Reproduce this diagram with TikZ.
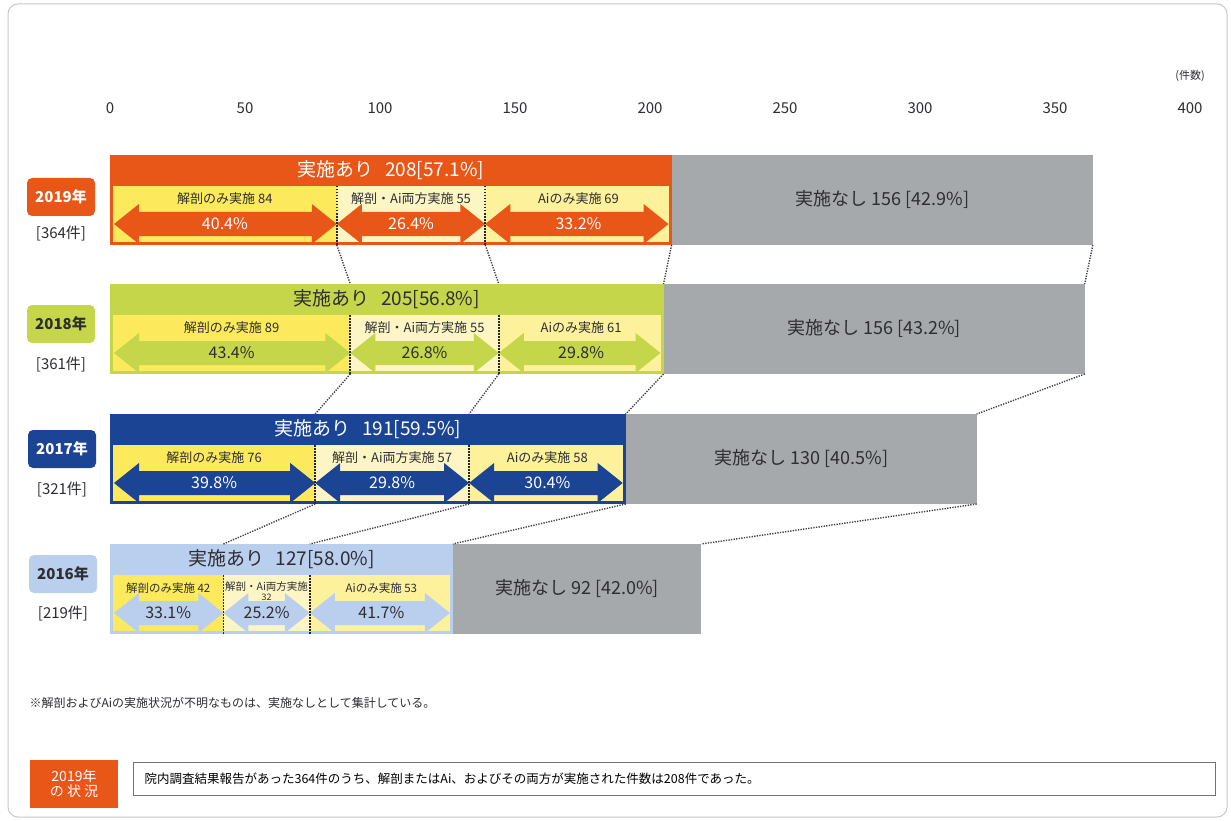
\documentclass[tikz,border=0pt]{standalone}
\usepackage{fontspec}
\setmainfont{Noto Sans CJK JP}
\usepackage{tikz}
\usetikzlibrary{
	calc,
	positioning
}
\definecolor{barOrange}{RGB}{232,86,24}
\definecolor{barGreen}{RGB}{198,214,74}
\definecolor{barBlue}{RGB}{28,68,148}
\definecolor{barSky}{RGB}{186,206,238}
\definecolor{barGray}{RGB}{166,169,172}
\definecolor{subYellow}{RGB}{252,234,92}
\definecolor{subCream}{RGB}{253,246,196}
\definecolor{subLight}{RGB}{253,241,156}
\definecolor{inkDark}{RGB}{45,45,50}
\definecolor{frameGray}{RGB}{200,200,200}
\tikzset{every path/.append style={line width=0.5pt}}
\tikzset{
	axislabel/.style={text=inkDark,font=\fontsize{15}{15}\selectfont},
	yearbox/.style={rounded corners=5pt,minimum width=68pt,minimum height=38pt,inner sep=0pt,font=\bfseries\fontsize{15}{15}\selectfont},
	countlabel/.style={text=inkDark,font=\fontsize{15}{15}\selectfont},
	headlabel/.style={font=\fontsize{19}{19}\selectfont},
	sublabel/.style={text=inkDark,font=\fontsize{13}{13}\selectfont,inner sep=0pt},
	pctlabel/.style={font=\fontsize{16}{16}\selectfont,inner sep=0pt},
	nonelabel/.style={text=inkDark,font=\fontsize{18}{18}\selectfont},
	divider/.style={line width=1.8pt,dash pattern=on 1.5pt off 1.5pt,black!85},
	link/.style={line width=1.4pt,dash pattern=on 1.3pt off 1.3pt,black!75}
}
% double arrow: left x, right x, middle y, colour
\newcommand{\tikzArrow}[4]{
	\fill[#4] (#1,#3) -- ++(25,-20) -- ++(0,8) -- ({#2-25},{#3-12}) -- ++(0,-8)
		-- (#2,#3) -- ++(-25,20) -- ++(0,-8) -- ({#1+25},{#3+12}) -- ++(0,8) -- cycle;
}
% one year: name, top, cumulated counts, total, colour
\newcommand{\tikzBarRow}[7]{
	\pgfmathsetmacro{\bxA}{110+2.7*#3}
	\pgfmathsetmacro{\bxB}{110+2.7*#4}
	\pgfmathsetmacro{\bxC}{110+2.7*#5}
	\pgfmathsetmacro{\bxD}{110+2.7*#6}
	\pgfmathsetmacro{\byH}{#2+31}
	\pgfmathsetmacro{\byB}{#2+90}
	\pgfmathsetmacro{\byM}{#2+69}
	\fill[barGray] (\bxC,#2) rectangle (\bxD,\byB);
	\fill[#7] (110,#2) rectangle (\bxC,\byB);
	\fill[subYellow] (113,\byH) rectangle (\bxA,\byB-3);
	\fill[subCream] (\bxA,\byH) rectangle (\bxB,\byB-3);
	\fill[subLight] (\bxB,\byH) rectangle (\bxC-3,\byB-3);
	\tikzArrow{114}{\bxA}{\byM}{#7}
	\tikzArrow{\bxA}{\bxB}{\byM}{#7}
	\tikzArrow{\bxB}{\bxC-3}{\byM}{#7}
	\draw[divider] (\bxA,\byH) -- (\bxA,\byB);
	\draw[divider] (\bxB,\byH) -- (\bxB,\byB);
	\coordinate (#1-a-top) at (\bxA,#2);
	\coordinate (#1-b-top) at (\bxB,#2);
	\coordinate (#1-c-top) at (\bxC,#2);
	\coordinate (#1-d-top) at (\bxD,#2);
	\coordinate (#1-a-bot) at (\bxA,\byB);
	\coordinate (#1-b-bot) at (\bxB,\byB);
	\coordinate (#1-c-bot) at (\bxC,\byB);
	\coordinate (#1-d-bot) at (\bxD,\byB);
	\coordinate (#1-head) at ({(110+\bxC)/2},{#2+15});
	\coordinate (#1-s1) at ({(113+\bxA)/2},{#2+44});
	\coordinate (#1-s2) at ({(\bxA+\bxB)/2},{#2+44});
	\coordinate (#1-s3) at ({(\bxB+\bxC)/2},{#2+44});
	\coordinate (#1-p1) at ({(113+\bxA)/2},\byM);
	\coordinate (#1-p2) at ({(\bxA+\bxB)/2},\byM);
	\coordinate (#1-p3) at ({(\bxB+\bxC)/2},\byM);
	\coordinate (#1-none) at ({(\bxC+\bxD)/2},{#2+44});
}

\begin{document}
\begin{tikzpicture}[x=1pt,y=-1pt]
	\useasboundingbox (0,0) rectangle (1231,821);
	\fill[white] (0,0) rectangle (1231,821);
	\draw[frameGray,line width=1pt,rounded corners=10pt] (8,4) rectangle (1227,817);

	% axis
	\foreach \v in {0,50,...,400}
		\node (ax\v) [axislabel] at ({110+2.7*\v},108) {\v};
	\node (unit) [text=inkDark,font=\fontsize{11}{11}\selectfont] at (1190,76) {(件数)};

	% bars
	\tikzBarRow{r19}{155}{84}{139}{208}{364}{barOrange}
	\tikzBarRow{r18}{284}{89}{144}{205}{361}{barGreen}
	\tikzBarRow{r17}{414}{76}{133}{191}{321}{barBlue}
	\tikzBarRow{r16}{544}{42}{74}{127}{219}{barSky}

	% links between years
	\foreach \k in {a,b,c,d} {
		\draw[link] (r19-\k-bot) -- (r18-\k-top);
		\draw[link] (r18-\k-bot) -- (r17-\k-top);
		\draw[link] (r17-\k-bot) -- (r16-\k-top);
	}

	% 2019
	\node (y19) [yearbox,fill=barOrange,text=white] at (61,197) {2019年};
	\node (n19) [countlabel,below=6pt of y19] {[364件]};
	\node (h19) [headlabel,text=white] at (r19-head) {実施あり\hspace{0.6em}208[57.1\%]};
	\node (s19a) [sublabel] at (r19-s1) {解剖のみ実施 84};
	\node (s19b) [sublabel] at (r19-s2) {解剖・Ai両方実施 55};
	\node (s19c) [sublabel] at (r19-s3) {Aiのみ実施 69};
	\node (p19a) [pctlabel,text=white] at (r19-p1) {40.4\%};
	\node (p19b) [pctlabel,text=white] at (r19-p2) {26.4\%};
	\node (p19c) [pctlabel,text=white] at (r19-p3) {33.2\%};
	\node (g19) [nonelabel] at (r19-none) {実施なし 156 [42.9\%]};

	% 2018
	\node (y18) [yearbox,fill=barGreen,text=inkDark] at (61,324) {2018年};
	\node (n18) [countlabel,below=10pt of y18] {[361件]};
	\node (h18) [headlabel,text=inkDark] at (r18-head) {実施あり\hspace{0.6em}205[56.8\%]};
	\node (s18a) [sublabel] at (r18-s1) {解剖のみ実施 89};
	\node (s18b) [sublabel] at (r18-s2) {解剖・Ai両方実施 55};
	\node (s18c) [sublabel] at (r18-s3) {Aiのみ実施 61};
	\node (p18a) [pctlabel,text=inkDark] at (r18-p1) {43.4\%};
	\node (p18b) [pctlabel,text=inkDark] at (r18-p2) {26.8\%};
	\node (p18c) [pctlabel,text=inkDark] at (r18-p3) {29.8\%};
	\node (g18) [nonelabel] at (r18-none) {実施なし 156 [43.2\%]};

	% 2017
	\node (y17) [yearbox,fill=barBlue,text=white] at (62,449) {2017年};
	\node (n17) [countlabel,below=10pt of y17] {[321件]};
	\node (h17) [headlabel,text=white] at (r17-head) {実施あり\hspace{0.6em}191[59.5\%]};
	\node (s17a) [sublabel] at (r17-s1) {解剖のみ実施 76};
	\node (s17b) [sublabel] at (r17-s2) {解剖・Ai両方実施 57};
	\node (s17c) [sublabel] at (r17-s3) {Aiのみ実施 58};
	\node (p17a) [pctlabel,text=white] at (r17-p1) {39.8\%};
	\node (p17b) [pctlabel,text=white] at (r17-p2) {29.8\%};
	\node (p17c) [pctlabel,text=white] at (r17-p3) {30.4\%};
	\node (g17) [nonelabel] at (r17-none) {実施なし 130 [40.5\%]};

	% 2016
	\node (y16) [yearbox,fill=barSky,text=inkDark] at (63,574) {2016年};
	\node (n16) [countlabel,below=9pt of y16] {[219件]};
	\node (h16) [headlabel,text=inkDark] at (r16-head) {実施あり\hspace{0.6em}127[58.0\%]};
	\node (s16a) [sublabel,font=\fontsize{11.5}{11.5}\selectfont] at (r16-s1) {解剖のみ実施 42};
	\node (s16b) [sublabel,align=center,font=\fontsize{10.5}{10}\selectfont] at ($(r16-s2)+(0,3)$) {解剖・Ai両方実施\\{\fontsize{9}{9}\selectfont 32}};
	\node (s16c) [sublabel,font=\fontsize{11.5}{11.5}\selectfont] at (r16-s3) {Aiのみ実施 53};
	\node (p16a) [pctlabel,text=inkDark] at (r16-p1) {33.1\%};
	\node (p16b) [pctlabel,text=inkDark] at (r16-p2) {25.2\%};
	\node (p16c) [pctlabel,text=inkDark] at (r16-p3) {41.7\%};
	\node (g16) [nonelabel] at (r16-none) {実施なし 92 [42.0\%]};

	% notes
	\node (note) [anchor=west,text=inkDark,font=\fontsize{12}{12}\selectfont] at (26,703)
		{※解剖およびAiの実施状況が不明なものは、実施なしとして集計している。};
	\node (state) [fill=barOrange,text=white,minimum width=88pt,minimum height=48pt,inner sep=0pt,
		align=center,font=\fontsize{14}{15}\selectfont] at (74,784) {2019年\\の 状 況};
	\node (summary) [draw=black!55,line width=1.2pt,anchor=west,minimum width=1082pt,minimum height=33pt,
		text width=1060pt,font=\fontsize{12.5}{12.5}\selectfont,text=black] at (133,779)
		{院内調査結果報告があった364件のうち、解剖またはAi、およびその両方が実施された件数は208件であった。};
\end{tikzpicture}
\end{document}
